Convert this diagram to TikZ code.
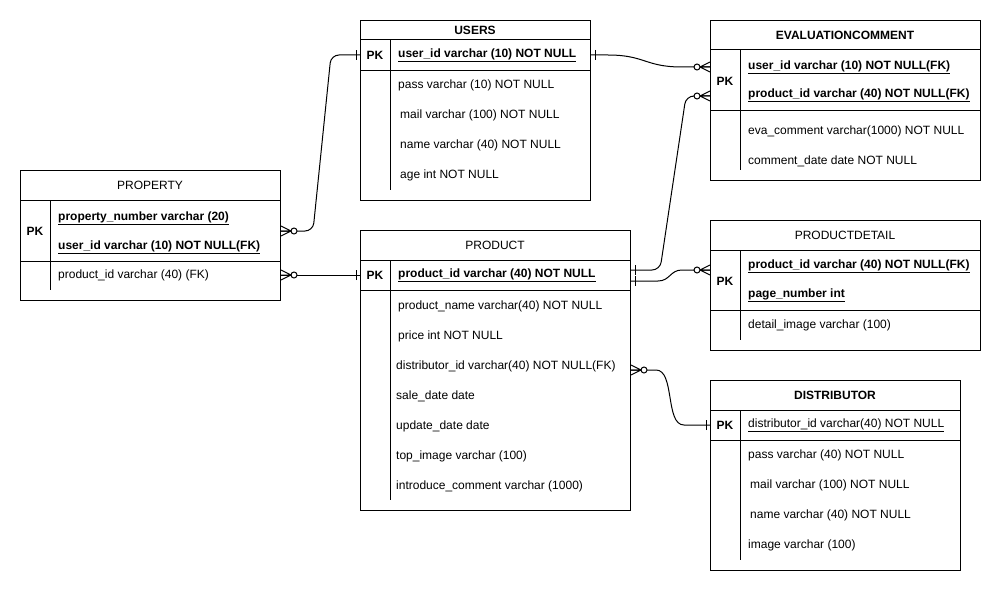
\documentclass[tikz,border=0pt]{standalone}
\usepackage{fontspec}
\setmainfont{Liberation Sans}
\newcommand{\pkey}[1]{\textbf{\underline{#1}}}
\newcommand{\ukey}[1]{\underline{#1}}
\tikzset{
  tbl/.style={draw,line width=1pt,anchor=north west,inner sep=0pt},
  hdr/.style={inner sep=0pt,font=\fontsize{12}{14}\selectfont},
  pk/.style={inner sep=0pt,font=\fontsize{12}{14}\selectfont\bfseries},
  fld/.style={anchor=west,inner sep=0pt,font=\fontsize{12}{14}\selectfont},
  rel/.style={line width=1pt,rounded corners=8pt},
  zeromany/.pic={
    \draw[line width=1pt] (0,-5) -- (10,0) -- (0,5) (0,0) -- (10,0);
    \draw[line width=1pt,fill=white] (13,0) circle[radius=3pt];
  },
  onebar/.pic={\draw[line width=1pt] (4,-5) -- (4,5);}
}
\begin{document}
\begin{tikzpicture}[x=1pt,y=-1pt]
      \useasboundingbox[fill=white] (0,0) rectangle (1001,591);
      %\draw[step=10,gray,very thin] (0,0) grid (1000,590);
      % USERS
      \node[tbl,minimum width=230pt,minimum height=180pt] (users) at (360,20) {};
      \node[hdr,font=\fontsize{12}{14}\selectfont\bfseries] at (475,30) {USERS};
      \draw[line width=1pt] (360,40) -- (590,40) (360,71) -- (590,71) (390,40) -- (390,190);
      \node[pk] (usrpk) at (375,55) {PK};
      \node[fld] (usrid) at (398,55) {\pkey{user\_id varchar (10) NOT NULL}};
      \node[fld] (usrpass) at (398,85) {pass varchar (10) NOT NULL};
      \node[fld] (usrmail) at (400,115) {mail varchar (100) NOT NULL};
      \node[fld] (usrname) at (400,145) {name varchar (40) NOT NULL};
      \node[fld] (usrage) at (400,175) {age int NOT NULL};
      % EVALUATIONCOMMENT
      \node[tbl,minimum width=270pt,minimum height=160pt] (eval) at (710,20) {};
      \node[hdr,font=\fontsize{12}{14}\selectfont\bfseries] at (845,35) {EVALUATIONCOMMENT};
      \draw[line width=1pt] (710,50) -- (980,50) (710,111) -- (980,111) (740,50) -- (740,170);
      \node[pk] (evpk) at (725,81) {PK};
      \node[fld] (evuid) at (748,67) {\pkey{user\_id varchar (10) NOT NULL(FK)}};
      \node[fld] (evpid) at (748,95) {\pkey{product\_id varchar (40) NOT NULL(FK)}};
      \node[fld] (evcom) at (748,131) {eva\_comment varchar(1000) NOT NULL};
      \node[fld] (evdate) at (748,161) {comment\_date date NOT NULL};
      % PROPERTY
      \node[tbl,minimum width=260pt,minimum height=130pt] (property) at (20,170) {};
      \node[hdr] at (150,185) {PROPERTY};
      \draw[line width=1pt] (20,200) -- (280,200) (20,261) -- (280,261) (50,200) -- (50,290);
      \node[pk] (proppk) at (35,231) {PK};
      \node[fld] (propno) at (58,218) {\pkey{property\_number varchar (20)}};
      \node[fld] (propuid) at (58,247) {\pkey{user\_id varchar (10) NOT NULL(FK)}};
      \node[fld] (propprd) at (58,275) {product\_id varchar (40) (FK)};
      % PRODUCT
      \node[tbl,minimum width=270pt,minimum height=280pt] (product) at (360,230) {};
      \node[hdr] at (495,245) {PRODUCT};
      \draw[line width=1pt] (360,260) -- (630,260) (360,290) -- (630,290) (390,260) -- (390,500);
      \node[pk] (prdpk) at (375,275) {PK};
      \node[fld] (prdid) at (398,275) {\pkey{product\_id varchar (40) NOT NULL}};
      \node[fld] (prdname) at (398,306) {product\_name varchar(40) NOT NULL};
      \node[fld] (prdprice) at (398,336) {price int NOT NULL};
      \node[fld] (prddist) at (396,366) {distributor\_id varchar(40) NOT NULL(FK)};
      \node[fld] (prdsale) at (396,396) {sale\_date date};
      \node[fld] (prdupd) at (396,426) {update\_date date};
      \node[fld] (prdimg) at (396,456) {top\_image varchar (100)};
      \node[fld] (prdintro) at (396,486) {introduce\_comment varchar (1000)};
      % PRODUCTDETAIL
      \node[tbl,minimum width=270pt,minimum height=130pt] (detail) at (710,220) {};
      \node[hdr] at (845,235) {PRODUCTDETAIL};
      \draw[line width=1pt] (710,250) -- (980,250) (710,310) -- (980,310) (740,250) -- (740,340);
      \node[pk] (dtpk) at (725,281) {PK};
      \node[fld] (dtpid) at (748,266) {\pkey{product\_id varchar (40) NOT NULL(FK)}};
      \node[fld] (dtpage) at (748,295) {\pkey{page\_number int}};
      \node[fld] (dtimg) at (748,325) {detail\_image varchar (100)};
      % DISTRIBUTOR
      \node[tbl,minimum width=250pt,minimum height=190pt] (distributor) at (710,380) {};
      \node[hdr,font=\fontsize{12}{14}\selectfont\bfseries] at (835,395) {DISTRIBUTOR};
      \draw[line width=1pt] (710,410) -- (960,410) (710,440) -- (960,440) (740,410) -- (740,560);
      \node[pk] (dspk) at (725,425) {PK};
      \node[fld] (dsid) at (748,425) {\ukey{distributor\_id varchar(40) NOT NULL}};
      \node[fld] (dspass) at (748,455) {pass varchar (40) NOT NULL};
      \node[fld] (dsmail) at (750,485) {mail varchar (100) NOT NULL};
      \node[fld] (dsname) at (750,515) {name varchar (40) NOT NULL};
      \node[fld] (dsimg) at (748,545) {image varchar (100)};
      % relations
      \coordinate[yshift=5pt] (prdout1) at (prdpk -| product.east);
      \coordinate[yshift=-6pt] (prdout2) at (prdpk -| product.east);
      \coordinate[yshift=-4pt] (prdout3) at (prddist -| product.east);
      \coordinate[yshift=-1pt] (evin2) at (evpid -| eval.west);
      \coordinate[yshift=-4pt] (dtin) at (dtpid -| detail.west);
      \draw[rel] (proppk -| property.east) -- (313,231) -- (331,55) -- (usrpk -| users.west);
      \draw[rel] (propprd -| property.east) -- (prdpk -| product.west);
      \draw[rel] (usrpk -| users.east) -- (600,55) .. controls (645,55) and (645,67) .. (690,67) -- (evuid -| eval.west);
      \draw[rel] (prdout1) -- (660,270) -- (686,96) -- (evin2);
      \draw[rel] (prdout2) -- (650,281) .. controls (670,281) and (670,270) .. (690,270) -- (dtin);
      \draw[rel] (prdout3) -- (648,370) .. controls (675,370) and (665,425) .. (692,425) -- (dspk -| distributor.west);
      \pic at (proppk -| property.east) {zeromany};
      \pic at (propprd -| property.east) {zeromany};
      \pic[rotate=180] at (usrpk -| users.west) {onebar};
      \pic[rotate=180] at (prdpk -| product.west) {onebar};
      \pic at (usrpk -| users.east) {onebar};
      \pic[rotate=180] at (evuid -| eval.west) {zeromany};
      \pic[rotate=180] at (evin2) {zeromany};
      \pic at (prdout1) {onebar};
      \pic at (prdout2) {onebar};
      \pic[rotate=180] at (dtin) {zeromany};
      \pic at (prdout3) {zeromany};
      \pic[rotate=180] at (dspk -| distributor.west) {onebar};
    \end{tikzpicture}
\end{document}
